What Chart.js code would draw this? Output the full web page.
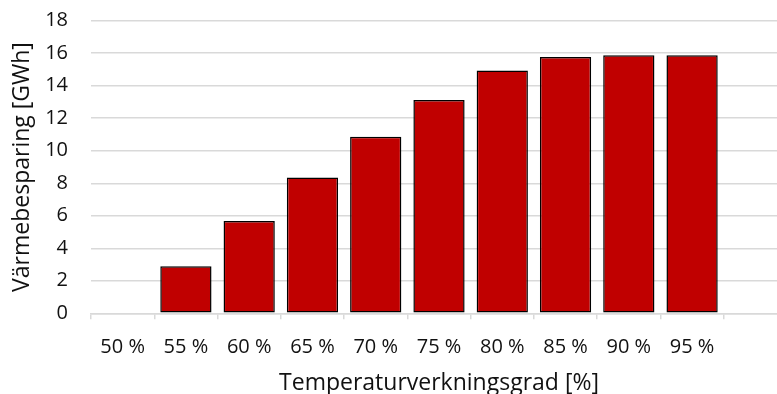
<!DOCTYPE html>
<html>
<head>
<meta charset="utf-8">
<script src="https://cdn.jsdelivr.net/npm/chart.js@4/dist/chart.umd.min.js"></script>
<style>
  html, body { margin: 0; padding: 0; background: #fff; }
  body { width: 777px; height: 394px; overflow: hidden; position: relative; }
  #wrap { position: absolute; left: 0; top: 0; width: 800px; height: 400px; }
</style>
</head>
<body>
<div id="wrap"><canvas id="c" width="800" height="400"></canvas></div>
<script>
// Heat savings per temperature efficiency level
const categories = ['50 %', '55 %', '60 %', '65 %', '70 %', '75 %', '80 %', '85 %', '90 %', '95 %', ''];
const savingsGWh = [0, 2.9, 5.68, 8.35, 10.86, 13.12, 14.94, 15.76, 15.87, 15.87, null];
const yTicks = [0, 2, 4, 6, 8, 10, 12, 14, 16, 18];

const FONT = "'Open Sans', sans-serif";
const TEXT = '#111';
const GRID = '#d9d9d9';

new Chart(document.getElementById('c'), {
  type: 'bar',
  data: {
    labels: categories,
    datasets: [{
      data: savingsGWh,
      backgroundColor: '#C00000',
      borderColor: '#000',
      borderWidth: 1.5,
      borderSkipped: false,
      categoryPercentage: 1,
      barPercentage: 0.81
    }]
  },
  options: {
    responsive: false,
    animation: false,
    events: [],
    layout: { padding: { top: 20.7, right: 13, left: 0, bottom: 0 } },
    plugins: { legend: { display: false }, tooltip: { enabled: false } },
    scales: {
      x: {
        offset: true,
        grid: { offset: true, drawOnChartArea: false, drawTicks: true, tickLength: 6, color: GRID, lineWidth: 1.5 },
        border: { display: true, color: GRID, width: 1.5 },
        ticks: { color: TEXT, font: { family: FONT, size: 20 }, padding: 16, maxRotation: 0, autoSkip: false },
        title: { display: true, text: 'Temperaturverkningsgrad [%]', color: TEXT, font: { family: FONT, size: 23 }, padding: { top: 0, bottom: 3 } },
        afterFit: s => { s.height = 400 - 313.3; s.paddingLeft = 0; s.paddingRight = 0; }
      },
      y: {
        min: 0, max: 18,
        afterBuildTicks: s => { s.ticks = yTicks.map(v => ({ value: v })); },
        grid: { drawTicks: false, color: GRID, lineWidth: 1.5 },
        border: { display: false },
        ticks: { color: TEXT, font: { family: FONT, size: 20 }, padding: 23 },
        title: { display: true, text: 'Värmebesparing [GWh]', color: TEXT, font: { family: FONT, size: 23 }, padding: { top: 9, bottom: 0 } },
        afterFit: s => { s.width = 91; s.paddingTop = 0; s.paddingBottom = 0; }
      }
    }
  }
});
</script>
</body>
</html>
